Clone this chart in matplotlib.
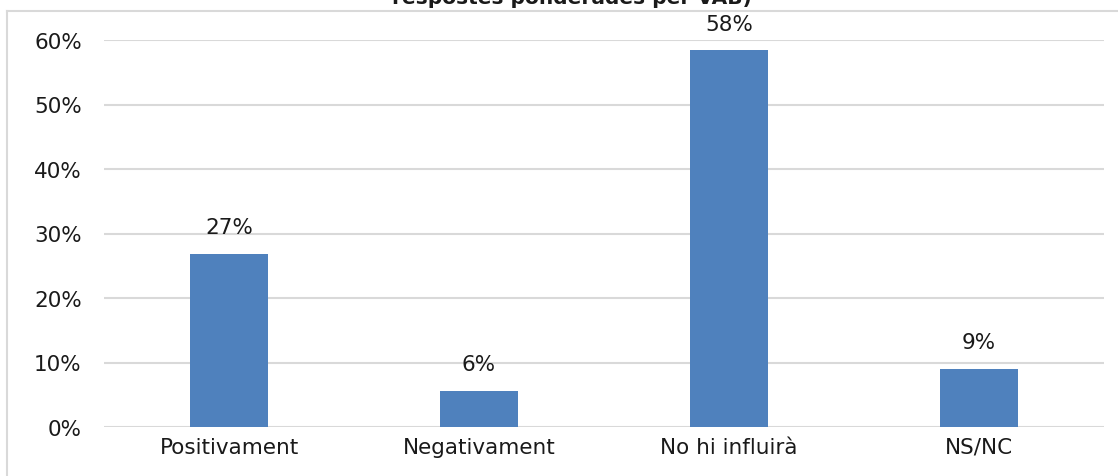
import matplotlib
matplotlib.use("Agg")
import matplotlib.pyplot as plt
from matplotlib.lines import Line2D

categories = ["Positivament", "Negativament", "No hi influirà", "NS/NC"]
values = [26.8, 5.6, 58.4, 9.0]
labels = ["27%", "6%", "58%", "9%"]
yticks = [0, 10, 20, 30, 40, 50, 60]
title_tail = "respostes ponderades per VAB)"

plt.rcParams['font.family'] = ['DejaVu Sans']

W, H = 1118, 477
fig = plt.figure(figsize=(W / 100, H / 100), dpi=100)
fig.patch.set_facecolor("white")

# axes: x 104..1104, y 41(60%)..428(0%)
left, right = 104 / W, 1104 / W
y0, y60 = 428, 41
ax = fig.add_axes([left, 1 - y0 / H, right - left, (y0 - y60) / H])
ax.set_xlim(-0.5, len(categories) - 0.5)
ax.set_ylim(0, 60)

FS = 15.5
ax.bar(range(len(categories)), values, width=0.312, color="#4f81bd", zorder=3)
for i, (v, lab) in enumerate(zip(values, labels)):
    ax.annotate(lab, (i, v), xytext=(0, 12), textcoords="offset points",
                ha="center", va="bottom", fontsize=FS, color="#1a1a1a")

ax.set_yticks(yticks)
ax.set_yticklabels([f"{t}%" for t in yticks], fontsize=FS, color="#1a1a1a")
ax.set_xticks(range(len(categories)))
ax.set_xticklabels(categories, fontsize=FS, color="#1a1a1a")
ax.tick_params(axis="y", length=0, pad=16)
ax.tick_params(axis="x", length=0, pad=7)
ax.grid(axis="y", color="#d9d9d9", linewidth=1.5, zorder=0)
ax.set_axisbelow(True)
for s in ax.spines.values():
    s.set_visible(False)
ax.set_xlim(-0.5, len(categories) - 0.5)

# chart border (top and left) of cropped frame
fig.add_artist(Line2D([7 / W, 1], [1 - 12 / H, 1 - 12 / H], color="#d9d9d9", linewidth=1.5,
                      transform=fig.transFigure))
fig.add_artist(Line2D([7 / W, 7 / W], [0, 1 - 12 / H], color="#d9d9d9", linewidth=1.5,
                      transform=fig.transFigure))

# clipped title tail (cut off at the top edge in the reference too)
fig.text(572 / W, 1 - 4 / H, title_tail, ha="center", va="baseline",
         fontsize=14.5, fontweight="bold", color="#1a1a1a")

fig.savefig("out.png", dpi=100, facecolor="white")
